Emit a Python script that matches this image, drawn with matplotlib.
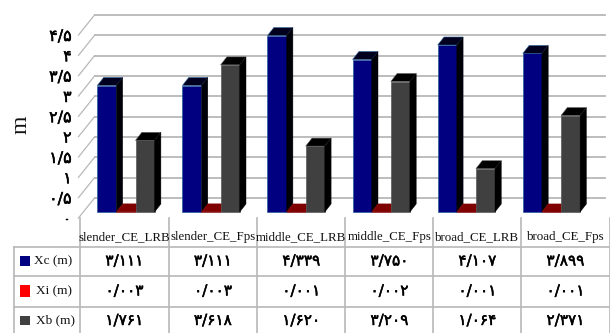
import matplotlib
matplotlib.use("Agg")
from matplotlib import pyplot as plt
from matplotlib import patheffects
from matplotlib.patches import Polygon, Rectangle

categories = ["slender_CE_LRB", "slender_CE_Fps", "middle_CE_LRB",
              "middle_CE_Fps", "broad_CE_LRB", "broad_CE_Fps"]
xc = [3.111, 3.111, 4.339, 3.750, 4.107, 3.899]
xi = [0.003, 0.003, 0.001, 0.002, 0.001, 0.001]
xb = [1.761, 3.618, 1.620, 3.209, 1.064, 2.371]
series_names = ["Xc (m)", "Xi (m)", "Xb (m)"]
y_ticks = [0, 0.5, 1, 1.5, 2, 2.5, 3, 3.5, 4, 4.5]

W, H = 610, 333
PX_GROUP = 85.1     # pixels per category
PX_VALUE = 40.66    # pixels per metre
BAR_W = 19.1 / PX_GROUP
FRONT_Y = -6.0 / PX_VALUE   # front plane, relative to bars
DEPTH_X, DEPTH_Y = 6.3 / PX_GROUP, 8.0 / PX_VALUE     # bar depth
WALL_Y = 14.0 / PX_VALUE     # back wall

GRID = "#b8b8b8"
TEXT = "#111111"
SERIF = "Liberation Serif"
FA = str.maketrans("0123456789.", "۰۱۲۳۴۵۶۷۸۹/")
# thickens the digits a little
HEAVY = [patheffects.withStroke(linewidth=0.35, foreground="#000000")]


def persian(v, fmt="%.3f"):
    return (fmt % v).translate(FA)


def draw_bar(ax, x, val, front, top, side, edge):
    ax.bar(x, val, BAR_W, align="edge", color=front, edgecolor=edge, linewidth=0.5, zorder=3)
    x2 = x + BAR_W
    ax.add_patch(Polygon([(x, val), (x2, val), (x2 + DEPTH_X, val + DEPTH_Y), (x + DEPTH_X, val + DEPTH_Y)],
                         closed=True, fc=top, ec=edge, lw=0.4, zorder=3, clip_on=False))
    ax.add_patch(Polygon([(x2, 0), (x2 + DEPTH_X, DEPTH_Y), (x2 + DEPTH_X, val + DEPTH_Y), (x2, val)],
                         closed=True, fc=side, ec=side, lw=0.3, zorder=3, clip_on=False))


fig = plt.figure(figsize=(W / 100, H / 100), dpi=100)

# chart axes: left edge at the table's second column, zero of the bars at y=212
left_px, right_px, bottom_px, top_px = 80, 610, 218, 8
ax = fig.add_axes([left_px / W, 1 - bottom_px / H, (right_px - left_px) / W, (bottom_px - top_px) / H])
first_bar = 97.3
ax.set_xlim((left_px - first_bar) / PX_GROUP, (right_px - first_bar) / PX_GROUP)
ax.set_ylim((212 - bottom_px) / PX_VALUE, (212 - top_px) / PX_VALUE)
for s in ax.spines.values():
    s.set_visible(False)

# back wall lines and the slanted lines of the side wall
xmin, xmax = ax.get_xlim()
wall_left = xmin + (94.5 - left_px) / PX_GROUP
wall_right = (605 - first_bar) / PX_GROUP
for v in y_ticks:
    ax.plot([wall_left, wall_right], [v + WALL_Y, v + WALL_Y], color=GRID, lw=1.3, zorder=1)
    ax.plot([wall_left - 16.0 / PX_GROUP, wall_left], [v + FRONT_Y, v + WALL_Y], color=GRID, lw=0.9,
            zorder=1, clip_on=False)

for i in range(len(categories)):
    draw_bar(ax, i, xc[i], "#000080", "#00001e", "#000008", "#2a5f9a")
    draw_bar(ax, i + BAR_W, xi[i], "#7f0000", "#7f0000", "#7f0000", "#7f0000")
    draw_bar(ax, i + 2 * BAR_W, xb[i], "#404040", "#000000", "#000000", "#5a5a5a")

# y labels sit on the front plane
ax.set_yticks([v + FRONT_Y for v in y_ticks])
ax.set_yticklabels([persian(v, "%g") for v in y_ticks], fontsize=11.5, color="#000000",
                   family="DejaVu Sans", path_effects=HEAVY)
ax.tick_params(axis="y", length=0, pad=6)
ax.set_xticks([])
fig.text(21 / W, 1 - 125 / H, "m", rotation=90, family=SERIF, fontsize=17, color=TEXT,
         ha="center", va="center")

# data table under the chart, laid out in pixels
tb = fig.add_axes([0, 0, 1, 1], facecolor="none")
tb.set_xlim(0, W)
tb.set_ylim(H, 0)
tb.axis("off")
col_x = [80, 168.7, 257, 345.3, 433.3, 521.3, 609.5]
row_y = [246.7, 276, 306.7]
for x in col_x:
    tb.plot([x, x], [218, H], color=GRID, lw=1.2)
tb.plot([13.5, 13.5], [row_y[0], H], color=GRID, lw=1.2)
for y in row_y:
    tb.plot([13.5, 610], [y, y], color=GRID, lw=1.2)

for i, name in enumerate(categories):
    tb.text((col_x[i] + col_x[i + 1]) / 2, 237, name, family=SERIF, fontsize=9.3, color=TEXT,
            ha="center", va="center")

rows = [xc, xi, xb]
row_mid = [261, 291, 320.5]
swatch = ["#000080", "#ff0000", "#404040"]
swatch_h = [10, 12, 9.5]
name_x = [53, 54, 55]
for r in range(3):
    tb.add_patch(Rectangle((20, row_mid[r] - swatch_h[r] / 2), 10, swatch_h[r], fc=swatch[r], ec="none"))
    tb.text(name_x[r], row_mid[r], series_names[r], family=SERIF, fontsize=9.5, color=TEXT,
            ha="center", va="center")
    for i in range(len(categories)):
        tb.text((col_x[i] + col_x[i + 1]) / 2, row_mid[r], persian(rows[r][i]), family="DejaVu Sans",
                fontsize=11, color="#000000", ha="center", va="center", path_effects=HEAVY)

fig.savefig("out.png", dpi=100)
